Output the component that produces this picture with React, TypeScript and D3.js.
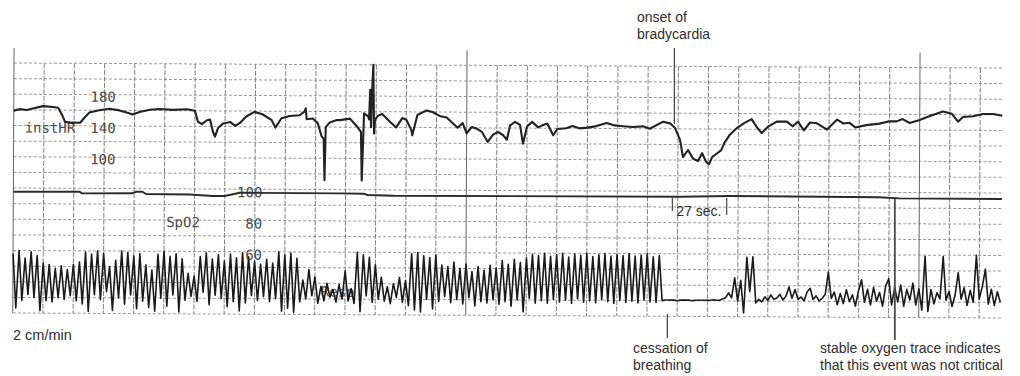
import React, { useEffect, useRef } from 'react';
import * as d3 from 'd3';

// instantaneous heart rate (time in s, bpm)
const hrTime = [
  0, 3, 6.5, 9.5, 14.5, 19.5, 22, 24, 25.5, 29, 33, 35, 37.5, 42.5, 47.5, 52.5, 56.5, 59, 62.5, 67.5,
  72.5, 79, 86, 90, 91.5, 93.5, 96, 97.5, 99, 100, 101.5, 104, 107.5, 110, 112.5, 115.5, 119.5, 123.5,
  128, 130, 133, 137, 142, 144.5, 145, 145.5, 148.5, 151, 153, 154, 154.5, 155, 157, 160.5, 162, 167,
  170.5, 172.5, 173, 174, 176, 176.5, 177, 177.5, 178, 178.5, 179, 179.5, 181, 183, 187, 190, 193, 195,
  197.5, 198, 200.5, 205, 208, 211.5, 215, 218, 220.5, 223, 225, 227.5, 230, 232.5, 235.5, 238, 240.5,
  243, 245, 246.5, 249, 251.5, 253, 255, 257.5, 260.5, 263, 265, 268, 270, 274.5, 277.5, 281, 285,
  289.5, 294.5, 298.5, 302.5, 307.5, 312.5, 316, 319.5, 322.5, 326, 328.5, 331, 332.5, 335, 337.5, 340,
  342, 344, 345.5, 347, 349.5, 351.5, 353, 355.5, 359, 363, 366.5, 369, 371.5, 374.5, 379, 384, 387,
  389.5, 392.5, 395.5, 399, 404, 409, 412, 415, 418, 423.5, 430, 435, 438.5, 441.5, 445, 450, 455,
  461.5, 466, 469, 471.5, 476.5, 481.5, 486.5, 491,
];
const hrBpm = [
  159, 161, 160, 162, 165, 164, 163, 154, 145, 144, 144, 150, 157, 160, 162, 160, 157, 155, 158, 161,
  162, 161, 162, 160, 146, 143, 148, 149, 133, 127, 138, 144, 146, 141, 145, 153, 159, 156,
  149, 139, 151, 154, 155, 160, 164, 150, 151, 145, 128, 125, 72, 140, 146, 149, 149, 151,
  141, 134, 72, 158, 154, 150, 188, 140, 190, 220, 132, 150, 155, 157, 147, 140, 152, 150,
  137, 130, 156, 162, 160, 155, 153, 146, 140, 146, 133, 141, 139, 135, 122, 131, 135,
  131, 125, 143, 148, 144, 120, 142, 148, 141, 144, 146, 131, 139, 140, 143, 140, 141,
  143, 147, 144, 143, 142, 143, 140, 145, 149, 147, 141, 126, 104, 113, 102, 99,
  109, 98, 95, 104, 109, 113, 122, 132, 141, 148, 153, 143, 135, 143, 150, 150, 144,
  150, 139, 149, 148, 140, 153, 148, 149, 143, 146, 148, 151, 151, 154, 149, 153, 158,
  164, 161, 151, 157, 158, 161, 161, 159,
];

// oxygen saturation (%)
const spo2Time = [0, 33, 34, 59, 61, 64, 66, 87.5, 99, 105, 112.5, 162, 174, 176, 189, 331, 356, 430, 440, 491];
const spo2Pct = [97.6, 97.8, 96.8, 97, 98, 98, 96.6, 96.4, 95.5, 95.6, 97.7, 97.6, 97.5, 96.7, 96.3, 96.6, 97.2, 96.9, 96.2, 96.2];

// respiration, relative deflection 0-100, one reading every respStep seconds
const respStep = 1.5;
const respAmp = [
  95, 8, 100, 20, 88, 30, 98, 25, 92, 4,
  80, 20, 78, 18, 72, 25, 76, 22, 70, 28,
  78, 20, 82, 15, 98, 3, 95, 30, 100, 22,
  96, 35, 75, 5, 85, 25, 100, 15, 98, 30,
  92, 8, 96, 20, 78, 10, 70, 4, 95, 25,
  100, 12, 92, 30, 96, 3, 88, 22, 65, 28,
  60, 20, 92, 35, 98, 15, 88, 30, 95, 25,
  85, 12, 96, 20, 90, 5, 98, 18, 92, 30,
  85, 22, 80, 28, 88, 20, 82, 25, 100, 5,
  95, 10, 98, 3, 90, 20, 55, 25, 72, 30,
  60, 18, 45, 22, 50, 28, 40, 20, 48, 25,
  70, 22, 42, 18, 100, 5, 96, 30, 92, 20,
  80, 25, 60, 22, 45, 18, 50, 28, 60, 20,
  55, 15, 98, 8, 100, 5, 95, 25, 92, 10,
  96, 22, 80, 30, 78, 20, 85, 25, 75, 18,
  82, 28, 70, 15, 78, 22, 72, 20, 80, 25,
  76, 18, 88, 22, 82, 15, 90, 25, 85, 6,
  92, 28, 98, 20, 96, 24, 100, 20, 95, 26,
  98, 22, 100, 25, 94, 20, 99, 27, 97, 22,
  100, 24, 95, 21, 98, 26, 100, 23, 96, 20,
  99, 25, 97, 22, 100, 24, 96, 21, 98, 26,
  100, 23, 95, 22, 97, 25, 26,
  26, 26, 26, 25, 26, 26, 26, 26, 25, 26, 26, 26, 26, 26, 26, 27, 26, 26,
  28, 30, 38, 30, 62, 25, 58, 6, 95, 40, 96, 22,
  28, 24, 32, 26, 35, 28, 30, 36, 27, 33,
  48, 30, 44, 28, 32, 26, 40, 46, 28, 34, 26, 30, 36,
  72, 30, 40, 20, 38, 22, 44, 25, 36, 18, 42,
  60, 24, 45, 20, 48, 26, 40, 18, 50, 62,
  20, 48, 25, 52, 18, 45, 28, 55, 20, 46, 12,
  98, 10, 45, 22, 40, 30, 98, 28, 42, 18,
  36, 72, 30, 48, 20, 44, 25, 100, 30, 50,
  78, 22, 46, 20, 42, 25,
];

const hrTicks = [180, 140, 100];
const spo2Ticks = [100, 80, 60];

// annotation times (s)
const bradyOnset = 328;
const apneaMarker = 324.5;
const apneaSpan = [327, 354];
const stableMarker = 437.5;

function App() {
  const svgRef = useRef<SVGSVGElement | null>(null);

  useEffect(() => {
    const svg = d3.select(svgRef.current);
    const width = 1020;
    const height = 376;
    const tEnd = 491;
    const tilt = 0.29; // the scanned strip is slightly rotated

    svg.selectAll('*').remove();
    svg.append('rect').attr('width', width).attr('height', height).attr('fill', '#ffffff');

    const x = d3.scaleLinear().domain([0, 495]).range([14, 1010.6]);
    const hrY = d3.scaleLinear().domain([220, 60]).range([63, 188]);
    const spoY = d3.scaleLinear().domain([100, 60]).range([188, 250.5]);
    const respY = d3.scaleLinear().domain([0, 100]).range([313, 250.5]);

    const top = hrY(220);
    const bottom = respY(0);
    const rowH = (bottom - top) / 16;

    const paper = svg.append('g').attr('transform', `rotate(${tilt}, ${x(0)}, ${top})`);

    // grid
    paper
      .selectAll('line.row')
      .data(d3.range(17).map((k) => top + k * rowH))
      .enter()
      .append('line')
      .attr('x1', x(0))
      .attr('x2', x(tEnd))
      .attr('y1', (d) => d)
      .attr('y2', (d) => d)
      .attr('stroke', '#9a9a9a')
      .attr('stroke-width', 1)
      .attr('stroke-dasharray', '3,2');

    paper
      .selectAll('line.col')
      .data(d3.range(0, tEnd, 15))
      .enter()
      .append('line')
      .attr('x1', (d) => x(d))
      .attr('x2', (d) => x(d))
      .attr('y1', (d) => (d % 225 === 0 ? top - 15 : top))
      .attr('y2', bottom)
      .attr('stroke', (d) => (d % 225 === 0 ? '#666' : '#808080'))
      .attr('stroke-width', 1)
      .attr('stroke-dasharray', (d) => (d % 225 === 0 ? null : '5,1.5'));

    // channel labels (printed by the monitor)
    const mono = { family: "'DejaVu Sans Mono', monospace", size: 14, fill: '#4a4a4a' };

    paper
      .selectAll('text.hr')
      .data(hrTicks)
      .enter()
      .append('text')
      .attr('x', 116)
      .attr('y', (d) => hrY(d) + 7)
      .attr('text-anchor', 'end')
      .attr('font-family', mono.family)
      .attr('font-size', mono.size)
      .attr('fill', mono.fill)
      .text((d) => d);

    paper
      .selectAll('text.spo')
      .data(spo2Ticks)
      .enter()
      .append('text')
      .attr('x', 263)
      .attr('y', (d) => spoY(d) + 8)
      .attr('text-anchor', 'end')
      .attr('font-family', mono.family)
      .attr('font-size', mono.size)
      .attr('fill', mono.fill)
      .text((d) => d);

    const chanLabels = [
      { text: 'instHR', x: 25, y: hrY(140) + 7 },
      { text: 'SpO2', x: 167, y: spoY(80) + 7 },
      { text: 'Resp', x: 322, y: respY(40) + 7 },
    ];
    paper
      .selectAll('text.chan')
      .data(chanLabels)
      .enter()
      .append('text')
      .attr('x', (d) => d.x)
      .attr('y', (d) => d.y)
      .attr('font-family', mono.family)
      .attr('font-size', mono.size)
      .attr('fill', mono.fill)
      .text((d) => d.text);

    // traces
    const hrLine = d3
      .line<number>()
      .x((d, i) => x(hrTime[i]))
      .y((d) => hrY(d));
    paper
      .append('path')
      .attr('d', hrLine(hrBpm))
      .attr('fill', 'none')
      .attr('stroke', '#222')
      .attr('stroke-width', 2.1)
      .attr('stroke-linejoin', 'round');

    const spoLine = d3
      .line<number>()
      .x((d, i) => x(spo2Time[i]))
      .y((d) => spoY(d));
    paper
      .append('path')
      .attr('d', spoLine(spo2Pct))
      .attr('fill', 'none')
      .attr('stroke', '#2a2a2a')
      .attr('stroke-width', 1.9);

    const respLine = d3
      .line<number>()
      .x((d, i) => x(i * respStep))
      .y((d) => respY(d));
    paper
      .append('path')
      .attr('d', respLine(respAmp))
      .attr('fill', 'none')
      .attr('stroke', '#1a1a1a')
      .attr('stroke-width', 1.6)
      .attr('stroke-linejoin', 'round');

    // annotations
    const lead = '#4a4a4a';
    const leaders = [
      { t: bradyOnset, y1: 48, y2: 124, w: 1.3 },
      { t: apneaSpan[0], y1: 197, y2: 211, w: 1.2 },
      { t: apneaSpan[1], y1: 198, y2: 215, w: 1.2 },
      { t: apneaMarker, y1: 314, y2: 338, w: 1.3 },
      { t: stableMarker, y1: 199, y2: 340, w: 1.8 },
    ];
    svg
      .selectAll('line.lead')
      .data(leaders)
      .enter()
      .append('line')
      .attr('x1', (d) => x(d.t))
      .attr('x2', (d) => x(d.t))
      .attr('y1', (d) => d.y1)
      .attr('y2', (d) => d.y2)
      .attr('stroke', lead)
      .attr('stroke-width', (d) => d.w);

    const notes = [
      { lines: ['onset of', 'bradycardia'], x: 637, y: 21.5, size: 14 },
      { lines: ['27 sec.'], x: x(apneaSpan[0]) + 4, y: 216, size: 14 },
      { lines: ['cessation of', 'breathing'], x: 633, y: 352.5, size: 14 },
      { lines: ['stable oxygen trace indicates', 'that this event was not critical'], x: 820, y: 352.5, size: 14 },
      { lines: ['2 cm/min'], x: 13, y: 340, size: 14.5 },
    ];
    notes.forEach((n) => {
      const t = svg
        .append('text')
        .attr('x', n.x)
        .attr('y', n.y)
        .attr('font-family', "'Liberation Sans', Arial, sans-serif")
        .attr('font-size', n.size)
        .attr('fill', '#2e2e2e');
      n.lines.forEach((line, i) => {
        t.append('tspan')
          .attr('x', n.x)
          .attr('dy', i === 0 ? 0 : 17)
          .text(line);
      });
    });
  }, []);

  return (
    <svg
      ref={svgRef}
      width={1020}
      height={376}
      style={{ position: 'absolute', left: 0, top: 0, display: 'block' }}
    />
  );
}

export default App;
